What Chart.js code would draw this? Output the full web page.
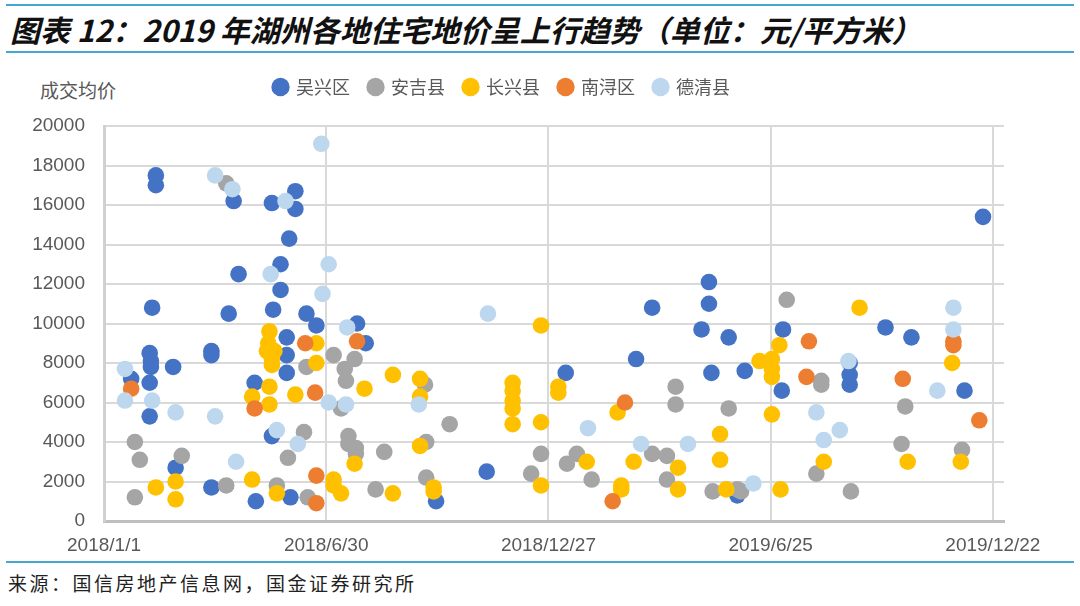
<!DOCTYPE html>
<html>
<head>
<meta charset="utf-8">
<script src="https://cdn.jsdelivr.net/npm/chart.js@4"></script>
<style>
  body { margin: 0; background: #fff; width: 1080px; height: 606px; overflow: hidden; position: relative; font-family: "Noto Sans CJK SC", sans-serif; }
  .rule { position: absolute; left: 6px; width: 1068px; height: 2px; background: #45a6d0; }
  #title { position: absolute; left: 10px; top: 9px; font-size: 30px; font-weight: bold; font-style: italic; color: #111; white-space: nowrap; line-height: 40px; }
  #ytitle { position: absolute; left: 40px; top: 77px; font-size: 19px; color: #595959; line-height: 26px; }
  #wrap { position: absolute; left: 0; top: 59px; width: 1080px; height: 502px; }
  #source { position: absolute; left: 8px; top: 568px; font-size: 19px; color: #222; letter-spacing: 2.5px; line-height: 30px; }
</style>
</head>
<body>
<div class="rule" style="top:4px"></div>
<div id="title">图表 12：2019 年湖州各地住宅地价呈上行趋势（单位：元/平方米）</div>
<div class="rule" style="top:51px"></div>
<div id="ytitle">成交均价</div>
<div id="wrap"><canvas id="myChart"></canvas></div>
<div class="rule" style="top:561px"></div>
<div id="source">来源：国信房地产信息网，国金证券研究所</div>

<script>
// x = days since 2018/1/1, y = 成交均价 (元/平方米)
var districts = ['吴兴区', '安吉县', '长兴县', '南浔区', '德清县'];
var colors = ['#4472c4', '#a5a5a5', '#ffc000', '#ed7d31', '#bdd7ee'];

var dateDays = [0, 180, 360, 540, 720];
var dateLabels = ['2018/1/1', '2018/6/30', '2018/12/27', '2019/6/25', '2019/12/22'];

var wuxing = [[42,17500],[42,17000],[39,10800],[37,8500],[38,8100],[38,7800],[37,7000],[37,5300],[22,7200],[56,7800],
  [58,2700],[87,8600],[87,8400],[87,1700],[101,10500],[109,12500],[105,16200],[136,16100],[155,16700],[155,15800],
  [150,14300],[143,13000],[143,11700],[137,10700],[148,9300],[148,8400],[148,7500],[164,10500],[172,9900],[122,7000],
  [136,4300],[123,1000],[151,1200],[205,10000],[212,9000],[269,1000],[310,2500],[374,7500],[431,8200],[444,10800],
  [490,12100],[490,11000],[484,9700],[506,9300],[492,7500],[519,7600],[513,1300],[550,9700],[549,6600],[604,8000],
  [604,7400],[604,6900],[633,9800],[654,9300],[697,6600],[712,15400]];

var anji = [[99,17100],[25,4000],[25,1200],[29,3100],[63,3300],[99,1800],[162,4500],[149,3200],[164,7800],[140,1800],
  [165,1200],[186,8400],[203,8200],[195,7700],[196,7100],[192,5700],[198,4300],[198,3900],[204,3700],[204,3400],
  [227,3500],[220,1600],[260,6900],[261,4000],[261,2200],[280,4900],[354,3400],[346,2400],[375,2900],[383,3400],
  [395,2100],[444,3400],[456,3300],[456,2100],[463,6800],[463,5900],[506,5700],[493,1500],[513,1600],[553,11200],
  [581,7100],[581,6900],[577,2400],[605,1500],[649,5800],[646,3900],[695,3600],[516,1500]];

var changxing = [[42,1700],[58,2000],[58,1100],[120,2100],[120,6300],[140,1400],[134,9600],[133,9000],[132,8600],[138,8600],
  [136,8200],[136,7900],[134,6800],[134,5900],[155,6400],[172,9000],[172,8000],[186,2100],[186,1800],[192,1400],
  [203,2900],[211,6700],[234,7400],[234,1400],[256,7200],[256,6300],[256,3800],[267,1700],[267,1500],[331,7000],
  [331,6600],[331,6100],[331,5700],[331,4900],[354,9900],[354,5000],[354,1800],[368,6800],[368,6500],[391,3000],
  [416,5500],[419,1800],[419,1600],[429,3000],[465,2700],[465,1600],[499,4400],[499,3100],[504,1600],[531,8100],
  [541,8200],[541,7700],[541,7300],[547,8900],[541,5400],[548,1600],[583,3000],[612,10800],[651,3000],[687,8000],
  [694,3000]];

var nanxun = [[22,6700],[122,5700],[163,9000],[171,6500],[172,2300],[172,900],[205,9100],[422,6000],[412,1000],[571,9100],
  [569,7300],[647,7200],[688,9100],[688,8900],[709,5100]];

var deqing = [[17,7700],[17,6100],[39,6100],[58,5500],[90,5300],[90,17500],[107,3000],[104,16800],[135,12500],[147,16200],
  [140,4600],[157,3900],[176,19100],[182,13000],[177,11500],[197,9800],[182,6000],[196,5900],[255,5900],[311,10500],
  [392,4700],[435,3900],[473,3900],[526,1900],[577,5500],[583,4100],[596,4600],[603,8100],[675,6600],[688,10800],
  [688,9700]];

var seriesData = [wuxing, anji, changxing, nanxun, deqing];

var datasets = districts.map(function (name, i) {
  return {
    label: name,
    data: seriesData[i].map(function (p) { return {x: p[0], y: p[1]}; }),
    backgroundColor: colors[i],
    borderWidth: 0,
    pointRadius: 8.3,
    pointHoverRadius: 8.3,
    order: districts.length - i   // later series on top, like the excel chart
  };
});

var tickFont = {family: 'Liberation Sans, Arial', size: 19};

var ctx = document.getElementById('myChart').getContext('2d');
var chart = new Chart(ctx, {
  type: 'scatter',
  data: {datasets: datasets},
  options: {
    responsive: true,
    maintainAspectRatio: false,
    animation: false,
    layout: {padding: {left: 0, right: 76, top: 0, bottom: 0}},
    plugins: {
      tooltip: {enabled: false},
      legend: {
        position: 'top',
        labels: {
          usePointStyle: true,
          pointStyle: 'circle',
          boxWidth: 13,
          boxHeight: 13,
          padding: 19,
          color: '#595959',
          font: {family: 'Noto Sans CJK SC', size: 18},
          sort: function (a, b) { return a.datasetIndex - b.datasetIndex; }
        }
      },
      // empty spacer between legend and plot
      subtitle: {
        display: true,
        text: ' ',
        position: 'top',
        weight: 100,
        font: {size: 1, lineHeight: 1},
        padding: {top: 19, bottom: 0}
      }
    },
    scales: {
      x: {
        type: 'linear',
        min: 0,
        max: 729,
        afterBuildTicks: function (scale) {
          scale.ticks = dateDays.map(function (d) { return {value: d}; });
        },
        afterFit: function (scale) { scale.height = 40; },
        ticks: {
          autoSkip: false,
          maxRotation: 0,
          padding: 13,
          color: '#595959',
          font: tickFont,
          callback: function (value) { return dateLabels[dateDays.indexOf(value)]; }
        },
        grid: {color: '#d9d9d9', lineWidth: 2, drawTicks: false},
        border: {color: '#bfbfbf', width: 3}
      },
      y: {
        min: 0,
        max: 20000,
        afterFit: function (scale) { scale.width = 104; },
        ticks: {
          stepSize: 2000,
          padding: 19,
          color: '#595959',
          font: tickFont,
          callback: function (value) { return String(value); }
        },
        grid: {color: '#d9d9d9', lineWidth: 2, drawTicks: false},
        border: {color: '#d0d0d0', width: 3}
      }
    }
  }
});
</script>
</body>
</html>
